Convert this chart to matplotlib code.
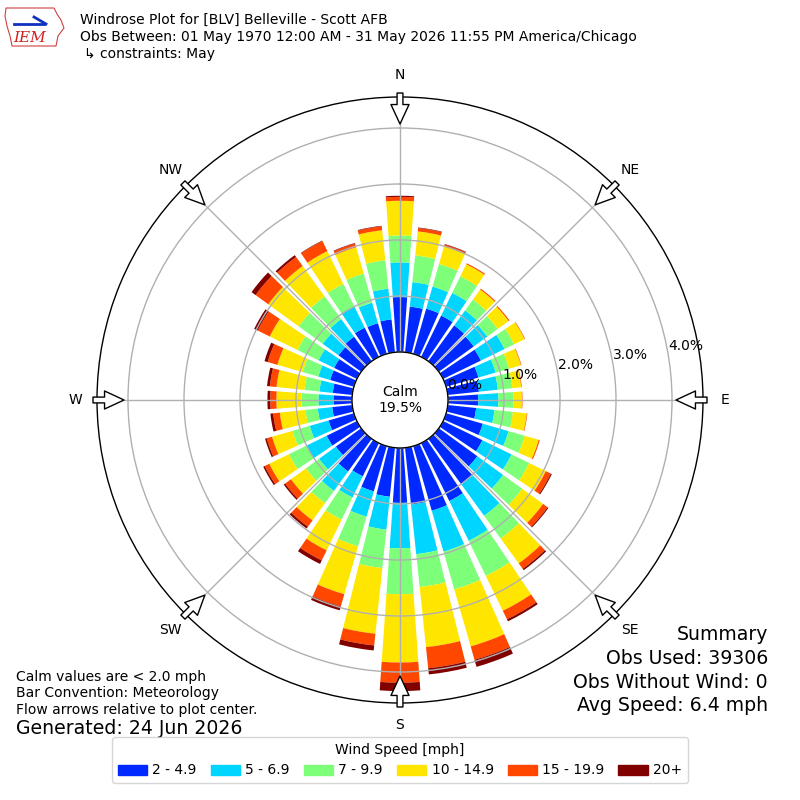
import numpy as np
import matplotlib
matplotlib.use('Agg')
from matplotlib import pyplot as plt
from matplotlib.patches import Circle, Patch, Polygon

# wind directions (deg, meteorological) of the 36 sectors
directions = np.arange(0, 360, 10)

# cumulative frequency [%] at the top of each speed bin, per sector
top_2_49 = [0.98, 0.82, 0.84, 0.82, 0.79, 0.77, 0.75, 0.60, 0.56,
            0.54, 0.51, 0.68, 0.78, 0.85, 1.00, 1.15, 1.20, 1.02,
            0.98, 0.88, 0.84, 0.66, 0.72, 0.56, 0.60, 0.47, 0.36,
            0.33, 0.35, 0.44, 0.45, 0.50, 0.54, 0.58, 0.57, 0.59]
top_5_69 = [1.60, 1.26, 1.25, 1.27, 1.12, 1.07, 1.22, 0.92, 0.90,
            0.90, 0.84, 1.16, 1.36, 1.42, 1.70, 1.94, 1.96, 1.91,
            1.79, 1.47, 1.31, 1.08, 1.15, 0.93, 1.00, 0.82, 0.62,
            0.60, 0.59, 0.66, 0.76, 0.85, 0.93, 1.00, 0.95, 1.14]
top_7_99 = [2.08, 1.74, 1.67, 1.60, 1.36, 1.30, 1.41, 1.17, 1.16,
            1.17, 1.17, 1.46, 1.71, 1.84, 2.20, 2.64, 2.66, 2.50,
            2.61, 2.16, 1.86, 1.52, 1.42, 1.22, 1.35, 1.14, 0.84,
            0.90, 0.86, 0.95, 1.18, 1.38, 1.43, 1.45, 1.49, 1.65]
top_10_149 = [2.70, 2.17, 2.00, 1.84, 1.58, 1.54, 1.62, 1.39, 1.32,
              1.32, 1.42, 1.72, 2.04, 2.30, 2.75, 3.33, 3.72, 3.58,
              3.83, 3.34, 2.75, 2.13, 1.80, 1.55, 1.74, 1.52, 1.30,
              1.35, 1.36, 1.42, 1.73, 2.05, 2.10, 2.10, 1.98, 2.19]
top_15_199 = [2.77, 2.23, 2.03, 1.86, 1.60, 1.56, 1.63, 1.40, 1.33,
              1.33, 1.43, 1.74, 2.14, 2.40, 2.87, 3.50, 3.97, 3.96,
              4.19, 3.55, 2.98, 2.33, 1.94, 1.68, 1.83, 1.62, 1.42,
              1.46, 1.48, 1.60, 1.97, 2.33, 2.30, 2.30, 2.05, 2.26]
top_20plus = [2.79, 2.24, 2.04, 1.86, 1.60, 1.56, 1.63, 1.40, 1.33,
              1.33, 1.43, 1.74, 2.16, 2.42, 2.90, 3.54, 4.10, 4.07,
              4.34, 3.64, 3.05, 2.40, 1.98, 1.71, 1.86, 1.65, 1.47,
              1.51, 1.53, 1.66, 2.04, 2.42, 2.34, 2.31, 2.06, 2.27]

speed_bins = ['2 - 4.9', '5 - 6.9', '7 - 9.9', '10 - 14.9', '15 - 19.9', '20+']
calm_pct = 19.5
ring_ticks = [0, 1, 2, 3, 4]
compass = ['N', 'NE', 'E', 'SE', 'S', 'SW', 'W', 'NW']

px = 56.            # pixels per 1 %
offset = 48 / px    # calm circle radius, in % units
rmax = 303 / px

fig = plt.figure(figsize=(8, 8), dpi=100)
ax = fig.add_axes([97/800, 97/800, 606/800, 606/800], projection='polar')
ax.set_theta_zero_location('N')
ax.set_theta_direction(-1)
ax.set_ylim(0, rmax)

colors = plt.get_cmap('jet')(np.linspace(0, 1, 7)[1:])
tops = np.array([top_2_49, top_5_69, top_7_99, top_10_149,
                 top_15_199, top_20plus])
theta = np.radians(directions)
base = np.zeros(len(directions))
for i in range(len(speed_bins)):
    ax.bar(theta, tops[i] - base, width=np.radians(8), bottom=offset + base,
           color=colors[i], linewidth=0, zorder=1)
    base = tops[i]

ax.set_yticks(offset + np.array(ring_ticks))
ax.set_yticklabels([])
ax.set_xticks(np.radians(np.arange(0, 360, 45)))
ax.set_xticklabels([])
ax.tick_params(length=0)
ax.grid(color='#b0b0b0', lw=1)
ax.spines['polar'].set_linewidth(1)

for v in ring_ticks:
    ax.text(np.radians(80), offset + v, '%.1f%%' % v, ha='left',
            va='bottom', fontsize=10, zorder=5)

ax.add_patch(Circle((0.5, 0.5), 0.5 * offset / rmax, transform=ax.transAxes,
                    fc='white', ec='black', lw=1, zorder=3))
ax.text(0.5, 0.5, 'Calm\n%.1f%%' % calm_pct, transform=ax.transAxes,
        ha='center', va='center', fontsize=10, zorder=4)

for i, lab in enumerate(compass):
    th = np.radians(45 * i)
    ax.text(th, 325 / px, lab, ha='center', va='center', fontsize=10)
    ax.annotate('', xy=(th, 276 / px), xytext=(th, 307 / px),
                arrowprops=dict(arrowstyle='simple,head_length=1.4,head_width=1.3,tail_width=0.42',
                                fc='white', ec='black', lw=1, mutation_scale=10,
                                shrinkA=0, shrinkB=0),
                annotation_clip=False, zorder=6)

# header
fig.text(80/800, 1 - 20/800, 'Windrose Plot for [BLV] Belleville - Scott AFB',
         fontsize=10, va='center')
fig.text(80/800, 1 - 37/800,
         'Obs Between: 01 May 1970 12:00 AM - 31 May 2026 11:55 PM America/Chicago',
         fontsize=10, va='center')
fig.text(84/800, 1 - 54/800, '\u21b3 constraints: May', fontsize=10, va='center')

# rough logo
lax = fig.add_axes([4/800, 1 - 50/800, 62/800, 46/800])
lax.set_xlim(0, 62)
lax.set_ylim(0, 46)
lax.axis('off')
lax.add_patch(Polygon([(2, 42), (50, 42), (53, 36), (57, 30), (60, 22), (54, 14),
                       (52, 4), (8, 4), (6, 14), (3, 24), (1, 34)],
                      closed=True, fill=False, ec='#d04040', lw=0.8))
lax.plot([10, 40], [26, 26], color='#1030c0', lw=2)
lax.plot([30, 42], [33, 26], color='#1030c0', lw=2)
lax.text(26, 12, 'IEM', color='#d02020', fontsize=11, style='italic',
         family='serif', ha='center', va='center')

# footer notes
fig.text(16/800, 1 - 677/800, 'Calm values are < 2.0 mph', fontsize=10, va='center')
fig.text(16/800, 1 - 693/800, 'Bar Convention: Meteorology', fontsize=10, va='center')
fig.text(16/800, 1 - 710/800, 'Flow arrows relative to plot center.', fontsize=10,
         va='center')
fig.text(16/800, 1 - 729/800, 'Generated: 24 Jun 2026', fontsize=13.6, va='center')

summary = ['Summary', 'Obs Used: 39306', 'Obs Without Wind: 0', 'Avg Speed: 6.4 mph']
for k, line in enumerate(summary):
    fig.text(768/800, 1 - (635 + 23.5 * k)/800, line, fontsize=13.6, ha='right',
             va='center')

handles = [Patch(color=colors[i], label=speed_bins[i]) for i in range(len(speed_bins))]
fig.legend(handles=handles, ncol=6, loc='lower center',
           bbox_to_anchor=(0.5, 10/800), title='Wind Speed [mph]', fontsize=10,
           title_fontsize=10, handletextpad=0.4, columnspacing=1.0,
           handlelength=2.1)

fig.savefig('out.png', dpi=100)
